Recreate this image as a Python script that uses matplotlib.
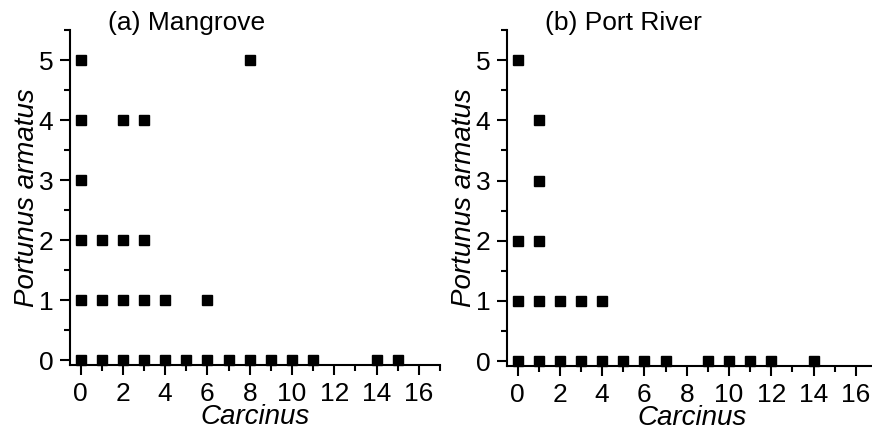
import matplotlib
matplotlib.use("Agg")
import matplotlib.pyplot as plt
from matplotlib.ticker import MultipleLocator

plt.rcParams['font.family'] = ['Liberation Sans', 'DejaVu Sans']

# (a) Mangrove: Carcinus count vs Portunus armatus count
mangrove_x = [0, 1, 2, 3, 4, 5, 6, 7, 8, 9, 10, 11, 14, 15,
              0, 1, 2, 3, 4, 6,
              0, 1, 2, 3,
              0,
              0, 2, 3,
              0, 8]
mangrove_y = [0] * 14 + [1] * 6 + [2] * 4 + [3] * 1 + [4] * 3 + [5] * 2

# (b) Port River
port_x = [0, 1, 2, 3, 4, 5, 6, 7, 9, 10, 11, 12, 14,
          0, 1, 2, 3, 4,
          0, 1,
          1,
          1,
          0]
port_y = [0] * 13 + [1] * 5 + [2] * 2 + [3] + [4] + [5]

titles = ["(a) Mangrove", "(b) Port River"]

fig = plt.figure(figsize=(8.72, 4.32), dpi=100)
ax1 = fig.add_axes([70 / 872, 67 / 432, 370 / 872, 335 / 432])
ax2 = fig.add_axes([507 / 872, 66 / 432, 370 / 872, 336 / 432])

for ax, xs, ys, title in [(ax1, mangrove_x, mangrove_y, titles[0]),
                          (ax2, port_x, port_y, titles[1])]:
    ax.plot(xs, ys, 's', color='black', markersize=7.5, linestyle='none', clip_on=False)
    ax.set_xlim(-0.5, 17)
    ax.set_ylim(-0.08, 5.5)
    ax.xaxis.set_major_locator(MultipleLocator(2))
    ax.xaxis.set_minor_locator(MultipleLocator(1))
    ax.yaxis.set_major_locator(MultipleLocator(1))
    ax.yaxis.set_minor_locator(MultipleLocator(0.5))
    for s in ['top', 'right']:
        ax.spines[s].set_visible(False)
    for s in ['left', 'bottom']:
        ax.spines[s].set_linewidth(1.5)
    ax.tick_params(which='major', direction='out', length=7, width=1.5, labelsize=19)
    ax.tick_params(which='minor', direction='out', length=4, width=1.5)
    ax.tick_params(axis='x', which='major', pad=5)
    ax.tick_params(axis='y', which='major', pad=5)
    ax.set_xlabel('Carcinus', fontsize=20, style='italic', labelpad=-1)
    ax.set_ylabel('Portunus armatus', fontsize=20, style='italic', labelpad=-1)
    ax.text(0.316, 1.02, title, transform=ax.transAxes, ha='center', va='center', fontsize=19)

fig.savefig('out.png', dpi=100)
